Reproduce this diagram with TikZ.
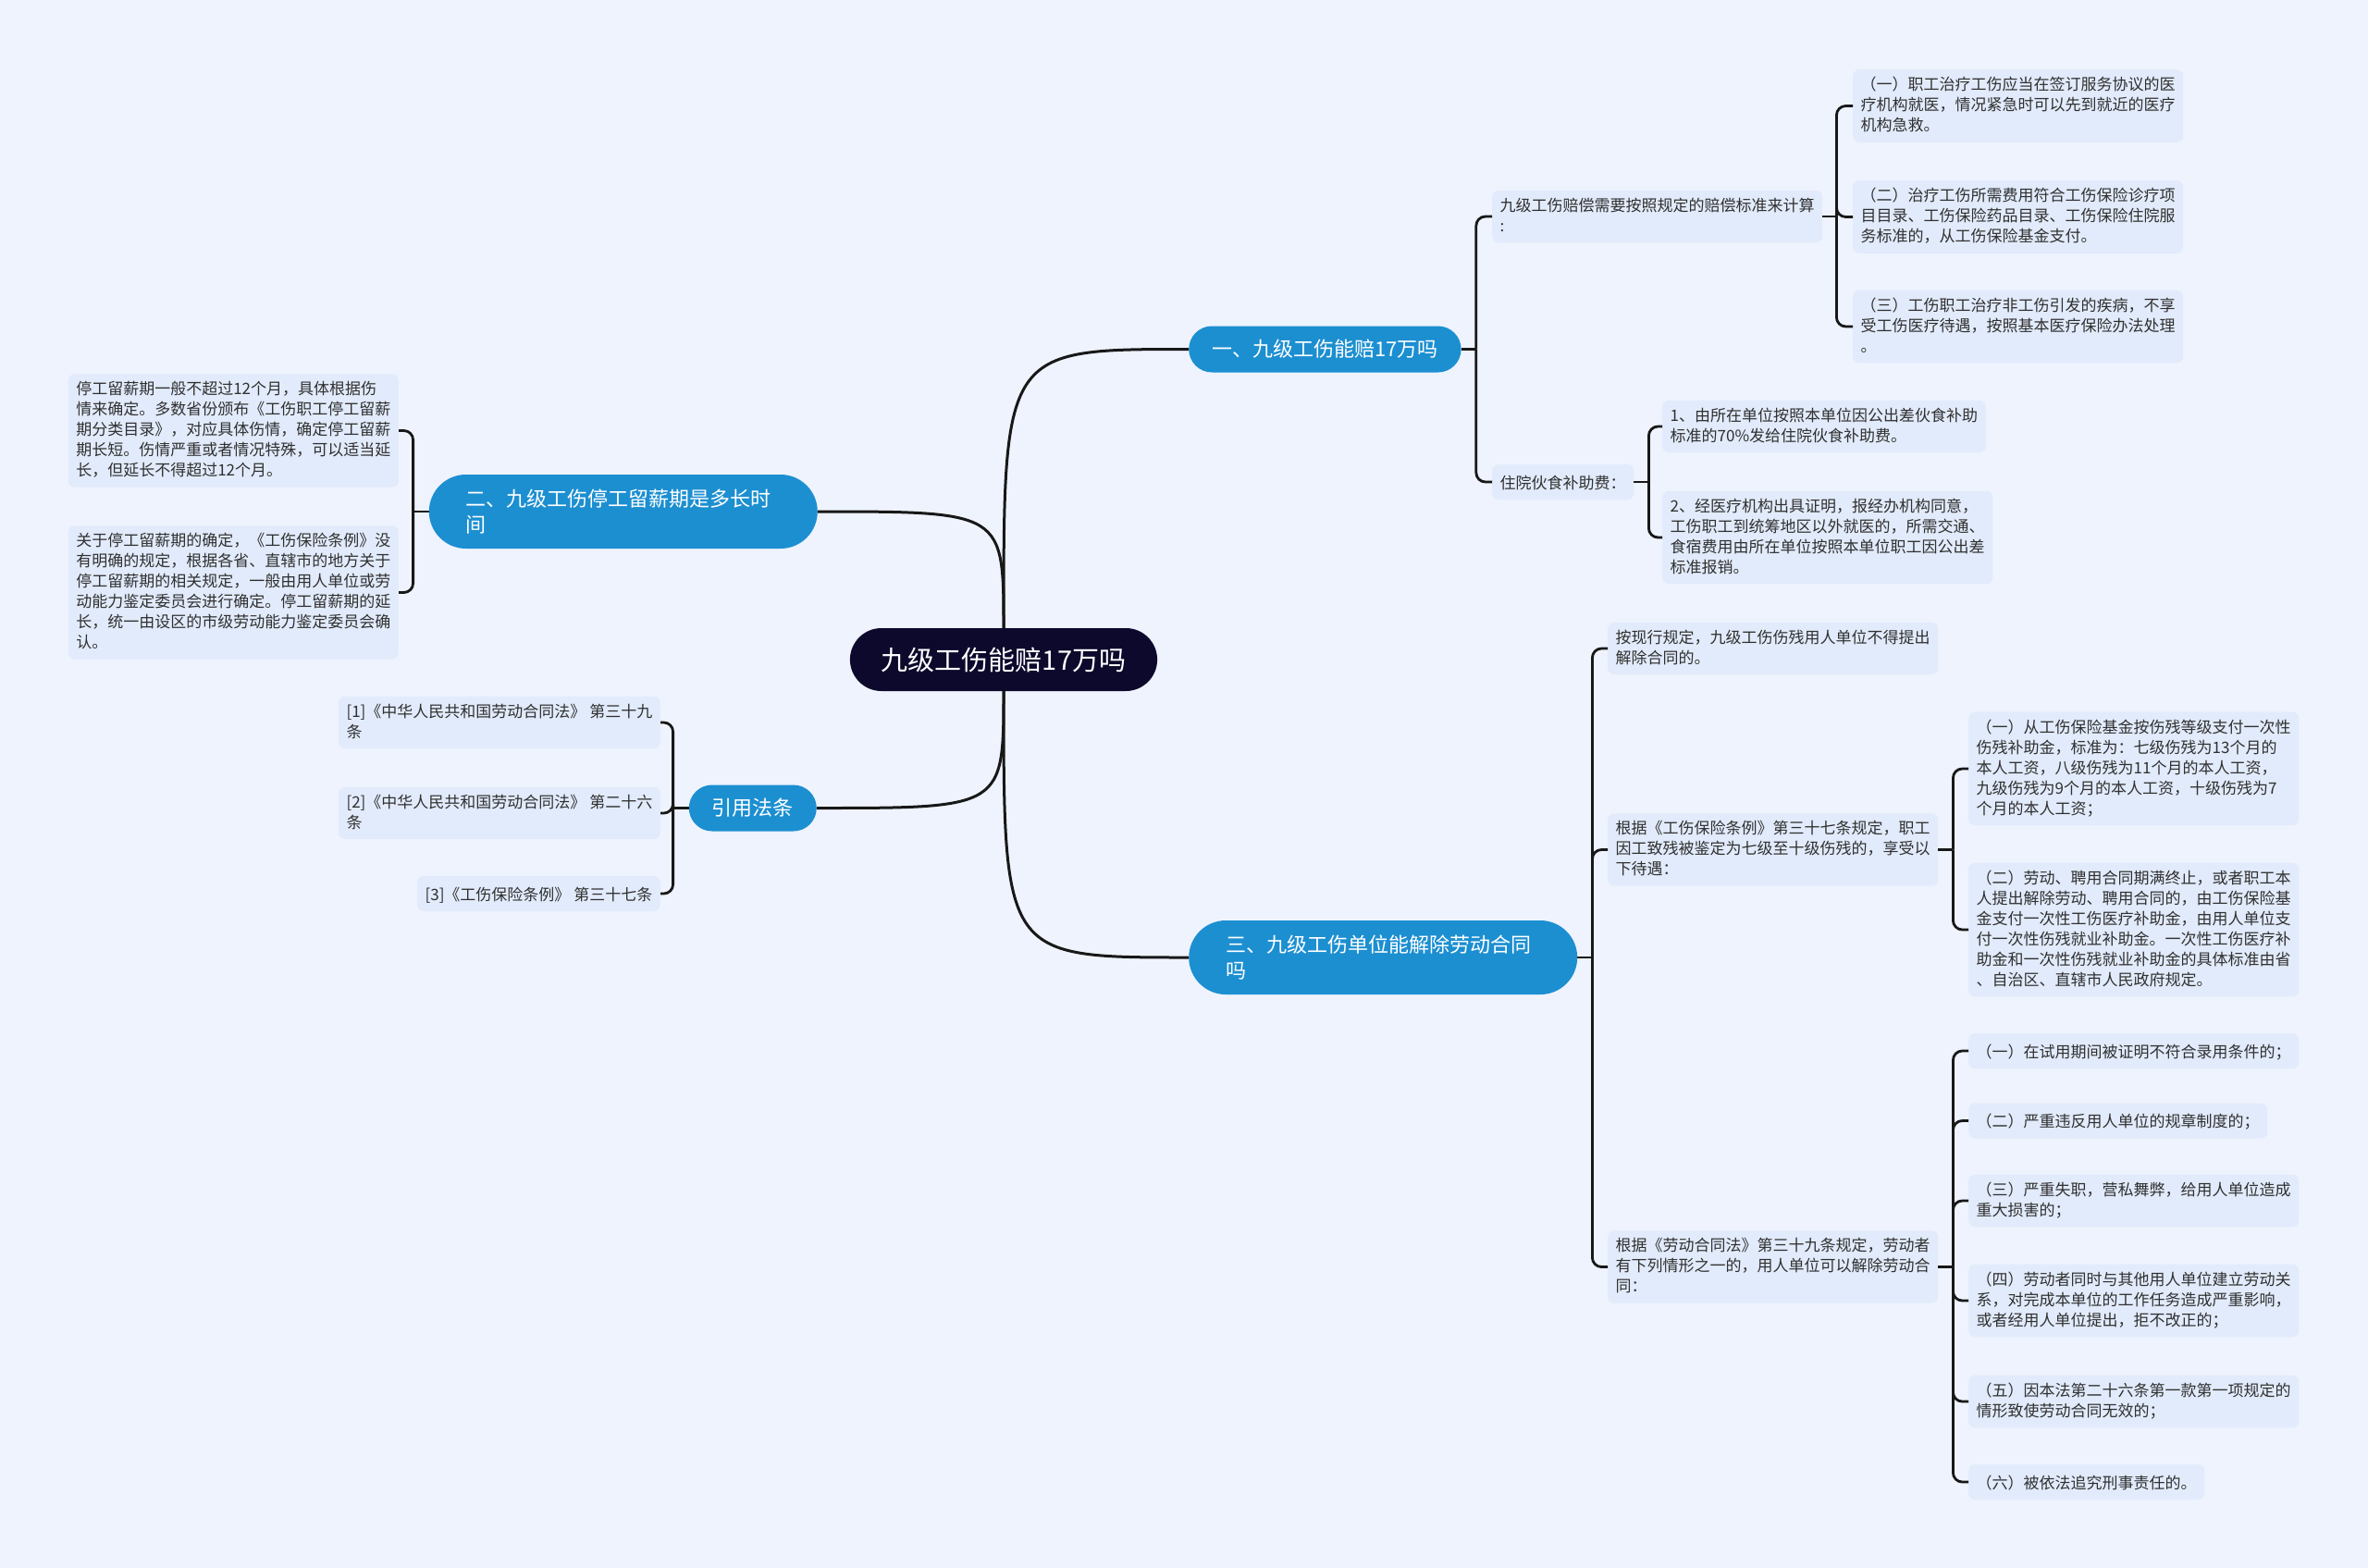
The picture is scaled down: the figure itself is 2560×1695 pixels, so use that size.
\documentclass[tikz,border=0pt]{standalone}
\usepackage{fontspec}
\newfontfamily\cjk{Noto Sans CJK SC}
\usepackage{tikz}
\usetikzlibrary{calc,positioning}
\definecolor{bgc}{RGB}{238,243,253}
\definecolor{leafc}{RGB}{226,235,251}
\definecolor{brc}{RGB}{28,143,209}
\definecolor{rootc}{RGB}{13,9,44}
\definecolor{txtc}{RGB}{48,48,48}
\definecolor{linec}{RGB}{24,24,24}
\newcommand\lfstrut{\rule[-4pt]{0pt}{22pt}}

\begin{document}
\begin{tikzpicture}[x=1pt,y=-1pt,
	root/.style={fill=rootc,text=white,font=\cjk\fontsize{29}{35}\selectfont,rounded corners=34,minimum height=68,inner xsep=34,inner ysep=0},
	branch/.style={fill=brc,text=white,font=\cjk\fontsize{22}{28.7}\selectfont,rounded corners=25,minimum height=50,inner xsep=25,inner ysep=0},
	branchtwo/.style={branch,rounded corners=40,minimum height=80,inner xsep=40,text width=340,align=left},
	leaf/.style={fill=leafc,text=txtc,font=\cjk\fontsize{17}{22}\selectfont,rounded corners=7,inner xsep=8.5,inner ysep=8,align=left,execute at begin node=\lfstrut,execute at end node=\lfstrut},
	trunk/.style={draw=linec,line width=3},
	stem/.style={draw=linec,line width=2.8},
	brk/.style={stem,rounded corners=10}]
		\fill[bgc] (0,0) rectangle (2560,1695);
		% centre and main branches
		\node[root] (root) at (1085,713) {九级工伤能赔17万吗};
		\node[branch,anchor=west] (b1) at (1285,377.5) {一、九级工伤能赔17万吗};
		\node[branchtwo,anchor=east] (b2) at (884,553) {二、九级工伤停工留薪期是多长时\\间};
		\node[branch,anchor=east] (b3) at (883,873.5) {引用法条};
		\node[branchtwo,anchor=west] (b4) at (1285,1035) {三、九级工伤单位能解除劳动合同\\吗};
		\draw[trunk] (root.north) .. controls (root.north |- b1.west) .. (b1.west);
		\draw[trunk] (root.north) .. controls (root.north |- b2.east) .. (b2.east);
		\draw[trunk] (root.south) .. controls (root.south |- b3.east) .. (b3.east);
		\draw[trunk] (root.south) .. controls (root.south |- b4.west) .. (b4.west);
		% branch one
		\node[leaf,anchor=west] (b1a) at (1613,234) {九级工伤赔偿需要按照规定的赔偿标准来计算\\:};
		\node[leaf,anchor=west] (b1b) at (1613,521) {住院伙食补助费：};
		\node[leaf,anchor=west] (b1a1) at (2003,114.5) {（一）职工治疗工伤应当在签订服务协议的医\\疗机构就医，情况紧急时可以先到就近的医疗\\机构急救。};
		\node[leaf,anchor=west] (b1a2) at (2003,234.5) {（二）治疗工伤所需费用符合工伤保险诊疗项\\目目录、工伤保险药品目录、工伤保险住院服\\务标准的，从工伤保险基金支付。};
		\node[leaf,anchor=west] (b1a3) at (2003,353) {（三）工伤职工治疗非工伤引发的疾病，不享\\受工伤医疗待遇，按照基本医疗保险办法处理\\。};
		\node[leaf,anchor=west] (b1b1) at (1797,461) {1、由所在单位按照本单位因公出差伙食补助\\标准的70\%发给住院伙食补助费。};
		\node[leaf,anchor=west] (b1b2) at (1797,581) {2、经医疗机构出具证明，报经办机构同意，\\工伤职工到统筹地区以外就医的，所需交通、\\食宿费用由所在单位按照本单位职工因公出差\\标准报销。};
		% branch two
		\node[leaf,anchor=east] (b2a) at (431,465.5) {停工留薪期一般不超过12个月，具体根据伤\\情来确定。多数省份颁布《工伤职工停工留薪\\期分类目录》，对应具体伤情，确定停工留薪\\期长短。伤情严重或者情况特殊，可以适当延\\长，但延长不得超过12个月。};
		\node[leaf,anchor=east] (b2b) at (431,640.5) {关于停工留薪期的确定，《工伤保险条例》没\\有明确的规定，根据各省、直辖市的地方关于\\停工留薪期的相关规定，一般由用人单位或劳\\动能力鉴定委员会进行确定。停工留薪期的延\\长，统一由设区的市级劳动能力鉴定委员会确\\认。};
		% cited laws
		\node[leaf,anchor=east] (b3a) at (714,781) {[1]《中华人民共和国劳动合同法》 第三十九\\条};
		\node[leaf,anchor=east] (b3b) at (714,879) {[2]《中华人民共和国劳动合同法》 第二十六\\条};
		\node[leaf,anchor=east] (b3c) at (714,966) {[3]《工伤保险条例》 第三十七条};
		% branch three
		\node[leaf,anchor=west] (b4a) at (1738,701) {按现行规定，九级工伤伤残用人单位不得提出\\解除合同的。};
		\node[leaf,anchor=west] (b4b) at (1738,918.5) {根据《工伤保险条例》第三十七条规定，职工\\因工致残被鉴定为七级至十级伤残的，享受以\\下待遇：};
		\node[leaf,anchor=west] (b4c) at (1738,1369.5) {根据《劳动合同法》第三十九条规定，劳动者\\有下列情形之一的，用人单位可以解除劳动合\\同：};
		\node[leaf,anchor=west] (b4b1) at (2128,831) {（一）从工伤保险基金按伤残等级支付一次性\\伤残补助金，标准为：七级伤残为13个月的\\本人工资，八级伤残为11个月的本人工资，\\九级伤残为9个月的本人工资，十级伤残为7\\个月的本人工资；};
		\node[leaf,anchor=west] (b4b2) at (2128,1005) {（二）劳动、聘用合同期满终止，或者职工本\\人提出解除劳动、聘用合同的，由工伤保险基\\金支付一次性工伤医疗补助金，由用人单位支\\付一次性伤残就业补助金。一次性工伤医疗补\\助金和一次性伤残就业补助金的具体标准由省\\、自治区、直辖市人民政府规定。};
		\node[leaf,anchor=west] (b4c1) at (2128,1136) {（一）在试用期间被证明不符合录用条件的；};
		\node[leaf,anchor=west] (b4c2) at (2128,1211.5) {（二）严重违反用人单位的规章制度的；};
		\node[leaf,anchor=west] (b4c3) at (2128,1298) {（三）严重失职，营私舞弊，给用人单位造成\\重大损害的；};
		\node[leaf,anchor=west] (b4c4) at (2128,1406) {（四）劳动者同时与其他用人单位建立劳动关\\系，对完成本单位的工作任务造成严重影响，\\或者经用人单位提出，拒不改正的；};
		\node[leaf,anchor=west] (b4c5) at (2128,1515) {（五）因本法第二十六条第一款第一项规定的\\情形致使劳动合同无效的；};
		\node[leaf,anchor=west] (b4c6) at (2128,1602) {（六）被依法追究刑事责任的。};
		% brackets
		\coordinate (b1s) at ([xshift=16pt]b1.east);
		\coordinate (b1as) at ([xshift=15pt]b1a.east);
		\coordinate (b1bs) at ([xshift=16pt]b1b.east);
		\coordinate (b2s) at ([xshift=-17pt]b2.west);
		\coordinate (b3s) at ([xshift=-17pt]b3.west);
		\coordinate (b4s) at ([xshift=16pt]b4.east);
		\coordinate (b4bs) at ([xshift=16pt]b4b.east);
		\coordinate (b4cs) at ([xshift=16pt]b4c.east);
		\draw[stem] (b1.east) -- (b1s);
		\draw[stem] (b1a.east) -- (b1as);
		\draw[stem] (b1b.east) -- (b1bs);
		\draw[stem] (b2.west) -- (b2s);
		\draw[stem] (b3.west) -- (b3s);
		\draw[stem] (b4.east) -- (b4s);
		\draw[stem] (b4b.east) -- (b4bs);
		\draw[stem] (b4c.east) -- (b4cs);
		\foreach \c in {b1a,b1b} \draw[brk] (b1s) |- (\c.west);
		\foreach \c in {b1a1,b1a2,b1a3} \draw[brk] (b1as) |- (\c.west);
		\foreach \c in {b1b1,b1b2} \draw[brk] (b1bs) |- (\c.west);
		\foreach \c in {b2a,b2b} \draw[brk] (b2s) |- (\c.east);
		\foreach \c in {b3a,b3b,b3c} \draw[brk] (b3s) |- (\c.east);
		\foreach \c in {b4a,b4b,b4c} \draw[brk] (b4s) |- (\c.west);
		\foreach \c in {b4b1,b4b2} \draw[brk] (b4bs) |- (\c.west);
		\foreach \c in {b4c1,b4c2,b4c3,b4c4,b4c5,b4c6} \draw[brk] (b4cs) |- (\c.west);
		\end{tikzpicture}
\end{document}
